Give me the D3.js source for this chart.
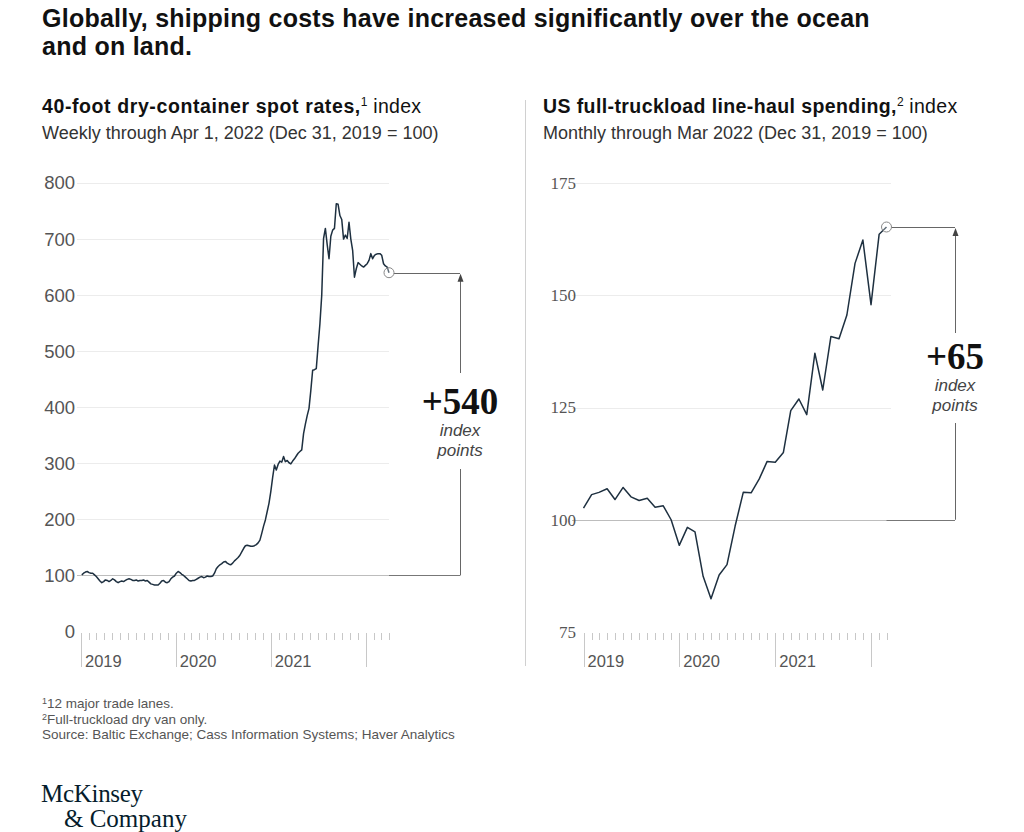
<!DOCTYPE html>
<html>
<head>
<meta charset="utf-8">
<script src="https://cdn.jsdelivr.net/npm/d3@7"></script>
<style>
  html, body { margin: 0; padding: 0; background: #fff; }
  svg { display: block; }
</style>
</head>
<body>
<svg id="chart" width="1024" height="832"></svg>
<script>
// ---------- DATA ----------
// Left: 40-foot dry-container spot rates, weekly index, first week ending Jan 4, 2019 through Apr 1, 2022
const containerStart = "2019-01-04";
const containerValues = [
  101,104,106,107,105,104,104,101,98,94,
  90,87,89,92,91,89,91,94,92,89,
  87,89,90,89,91,93,94,93,91,91,
  92,90,91,91,92,90,91,88,85,84,
  83,83,83,86,90,91,88,87,89,94,
  97,99,104,107,105,102,100,97,94,91,
  90,91,91,93,95,97,98,96,97,99,
  98,98,99,104,112,116,119,121,124,125,
  122,120,119,122,126,129,132,136,142,148,
  153,154,153,152,152,153,155,158,163,175,
  188,199,214,229,250,275,297,288,298,304,
  302,312,303,305,301,299,304,308,313,318,
  321,324,353,370,385,398,430,466,467,469,
  510,549,600,701,719,690,665,705,716,719,
  763,762,742,735,700,707,701,730,700,680,
  632,647,658,655,652,650,653,656,662,674,
  665,671,673,674,674,671,656,652,650,640
];
const containerTicks = [0,100,200,300,400,500,600,700,800];

// Right: US full-truckload line-haul spending, monthly Jan 2019 - Mar 2022
const truckStart = "2019-01-01";
const truckValues = [
  102.6,105.6,106.1,106.9,104.5,107.2,105.1,104.3,104.8,102.8,103.1,100.0,
  94.3,98.3,97.3,87.4,82.4,87.7,90.0,98.6,106.1,106.0,109.1,113.0,
  112.8,115.0,124.3,126.9,123.4,137.1,128.9,140.8,140.3,145.6,157.1,162.3,
  147.9,163.6,165.2
];
const truckTicks = [75,100,125,150,175];
const yearLabels = ["2019","2020","2021"];

const titleLines = ["Globally, shipping costs have increased significantly over the ocean", "and on land."];
const footnotes = ["12 major trade lanes.", "Full-truckload dry van only.", " Source: Baltic Exchange; Cass Information Systems; Haver Analytics"];

// ---------- SETUP ----------
const svg = d3.select("#chart");
const parse = d3.timeParse("%Y-%m-%d");
const SANS = "'Liberation Sans', Arial, sans-serif";
const SERIF = "'Liberation Serif', 'DejaVu Serif', serif";
const LINE = "#1e3040";

const cStart = parse(containerStart);
const containerData = containerValues.map((v, i) => ({ date: d3.timeDay.offset(cStart, 7 * i), value: v }));
const tStart = parse(truckStart);
const truckData = truckValues.map((v, i) => ({ date: d3.timeMonth.offset(tStart, i), value: v }));

// Title
svg.append("g").selectAll("text").data(titleLines).join("text")
  .attr("x", 42).attr("y", (d, i) => 27 + i * 28)
  .attr("font-family", SANS).attr("font-weight", "bold").attr("font-size", 25)
  .attr("letter-spacing", 0.25)
  .attr("fill", "#111").text(d => d);

// Panel headers
function header(x, bold, sup, rest, sub, ls) {
  const t = svg.append("text").attr("x", x).attr("y", 113)
    .attr("font-family", SANS).attr("font-size", 19.5).attr("fill", "#111");
  t.append("tspan").attr("font-weight", "bold").attr("letter-spacing", ls).text(bold);
  t.append("tspan").attr("font-size", 12).attr("dy", -7).text(sup);
  t.append("tspan").attr("dy", 7).attr("letter-spacing", 0.3).text(rest);
  svg.append("text").attr("x", x).attr("y", 139)
    .attr("font-family", SANS).attr("font-size", 18).attr("fill", "#333").text(sub);
}
header(42, "40-foot dry-container spot rates,", "1", " index", "Weekly through Apr 1, 2022 (Dec 31, 2019 = 100)", 0.6);
header(543, "US full-truckload line-haul spending,", "2", " index", "Monthly through Mar 2022 (Dec 31, 2019 = 100)", 0.4);

// Separator
svg.append("line").attr("x1", 525.5).attr("x2", 525.5).attr("y1", 100).attr("y2", 666)
  .attr("stroke", "#d0d0d0").attr("stroke-width", 1);

function panel(cfg) {
  const { data, xDomain, xRange, yDomain, yRange, ticks, gridX, labelX, labelFont, labelSize, ann } = cfg;
  const x = d3.scaleTime().domain(xDomain).range(xRange);
  const y = d3.scaleLinear().domain(yDomain).range(yRange);
  const g = svg.append("g");

  // gridlines
  g.append("g").selectAll("line").data(ticks.filter(t => t !== yDomain[0])).join("line")
    .attr("x1", gridX[0]).attr("x2", gridX[1])
    .attr("y1", d => Math.round(y(d)) + 0.5).attr("y2", d => Math.round(y(d)) + 0.5)
    .attr("stroke", d => d === 100 ? "#bdbdbd" : "#ececec").attr("stroke-width", 1);

  // y labels
  g.append("g").selectAll("text").data(ticks).join("text")
    .attr("x", labelX).attr("y", d => y(d)).attr("dy", "0.35em")
    .attr("text-anchor", "end").attr("font-family", labelFont).attr("font-size", labelSize)
    .attr("fill", "#555").text(d => d);

  // x axis: monthly minor ticks, yearly major ticks
  const y0 = Math.round(y(yDomain[0]));
  const months = d3.timeMonth.range(xDomain[0], d3.timeDay.offset(xDomain[1], 1));
  const axisG = g.append("g");
  axisG.selectAll("line.minor").data(months.filter(m => m.getMonth() !== 0)).join("line")
    .attr("class", "minor")
    .attr("x1", d => Math.round(x(d)) + 0.5).attr("x2", d => Math.round(x(d)) + 0.5)
    .attr("y1", y0 + 1).attr("y2", y0 + 8).attr("stroke", "#c8c8c8");
  axisG.selectAll("line.major").data(months.filter(m => m.getMonth() === 0)).join("line")
    .attr("class", "major")
    .attr("x1", d => Math.round(x(d)) + 0.5).attr("x2", d => Math.round(x(d)) + 0.5)
    .attr("y1", y0 + 1).attr("y2", y0 + 35).attr("stroke", "#c8c8c8");
  axisG.selectAll("text").data(yearLabels).join("text")
    .attr("x", d => x(new Date(+d, 0, 1)) + 4).attr("y", y0 + 35)
    .attr("font-family", SANS).attr("font-size", 16.5).attr("fill", "#555").text(d => d);

  // line
  g.append("path").datum(data)
    .attr("d", d3.line().x(d => x(d.date)).y(d => y(d.value)))
    .attr("fill", "none").attr("stroke", LINE).attr("stroke-width", 1.5).attr("stroke-linejoin", "round");

  // annotation
  const last = data[data.length - 1];
  const lx = x(last.date), ly = y(last.value);
  const ax = ann.x;
  const by = y(100);
  const ag = g.append("g").attr("stroke", "#666").attr("stroke-width", 1).attr("fill", "none");
  ag.append("line").attr("x1", lx + 5).attr("x2", ax).attr("y1", Math.round(ly) + 0.5).attr("y2", Math.round(ly) + 0.5);
  ag.append("line").attr("x1", lx).attr("x2", ax).attr("y1", Math.round(by) + 0.5).attr("y2", Math.round(by) + 0.5).attr("stroke", "#777");
  ag.append("line").attr("x1", ax + 0.5).attr("x2", ax + 0.5).attr("y1", ly + 6).attr("y2", ann.gapTop);
  ag.append("line").attr("x1", ax + 0.5).attr("x2", ax + 0.5).attr("y1", ann.gapBottom).attr("y2", by);
  g.append("path").attr("d", `M${ax + 0.5},${ly + 1} l-3,8 l6,0 z`).attr("fill", "#444");
  g.append("circle").attr("cx", lx).attr("cy", ly).attr("r", 5)
    .attr("fill", "#fff").attr("fill-opacity", 0.3).attr("stroke", "#888").attr("stroke-width", 1);

  g.append("text").attr("x", ax).attr("y", ann.textY).attr("text-anchor", "middle")
    .attr("font-family", SERIF).attr("font-weight", "bold").attr("font-size", 37).attr("fill", "#111")
    .text(ann.label);
  g.append("text").attr("x", ax).attr("y", ann.textY + 22).attr("text-anchor", "middle")
    .attr("font-family", SANS).attr("font-style", "italic").attr("font-size", 17).attr("fill", "#444")
    .text("index");
  g.append("text").attr("x", ax).attr("y", ann.textY + 42).attr("text-anchor", "middle")
    .attr("font-family", SANS).attr("font-style", "italic").attr("font-size", 17).attr("fill", "#444")
    .text("points");
}

panel({
  data: containerData,
  xDomain: [new Date(2019, 0, 1), new Date(2022, 3, 1)],
  xRange: [81, 389],
  yDomain: [0, 800], yRange: [631.5, 183],
  ticks: containerTicks,
  gridX: [77, 389],
  labelX: 75, labelFont: SANS, labelSize: 18.5,
  ann: { x: 460, gapTop: 373, gapBottom: 469, textY: 414, label: "+540" }
});

panel({
  data: truckData,
  xDomain: [new Date(2019, 0, 1), new Date(2022, 2, 1)],
  xRange: [583.5, 886.5],
  yDomain: [75, 175], yRange: [632, 183],
  ticks: truckTicks,
  gridX: [572, 891],
  labelX: 576, labelFont: SERIF, labelSize: 17,
  ann: { x: 955, gapTop: 333, gapBottom: 423, textY: 369, label: "+65" }
});

// Footnotes
const fn = svg.append("g").attr("font-family", SANS).attr("font-size", 13.5).attr("fill", "#555");
footnotes.forEach((f, i) => {
  const t = fn.append("text").attr("x", 42).attr("y", 708 + i * 15.5);
  if (i < 2) t.append("tspan").attr("font-size", 9).attr("dy", -4).text(String(i + 1));
  t.append("tspan").attr("dy", i < 2 ? 4 : 0).text(f);
});

// Logo
const logo = svg.append("g").attr("font-family", SERIF).attr("font-size", 25).attr("fill", "#051c2c");
logo.append("text").attr("x", 41).attr("y", 802).attr("letter-spacing", -0.3).text("McKinsey");
logo.append("text").attr("x", 64).attr("y", 827).attr("letter-spacing", 0).text("& Company");
</script>
</body>
</html>
